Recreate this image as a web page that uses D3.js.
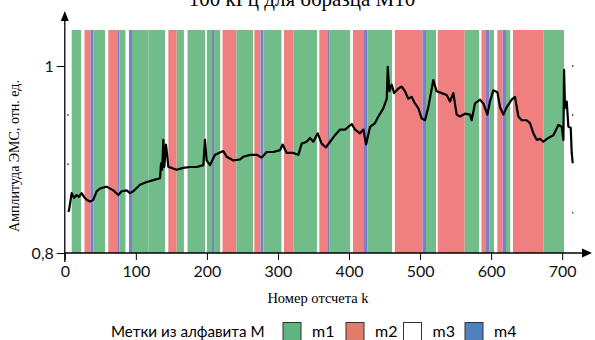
<!DOCTYPE html>
<html>
<head>
<meta charset="utf-8">
<script src="https://cdnjs.cloudflare.com/ajax/libs/d3/7.8.5/d3.min.js"></script>
<style>
  body { margin: 0; background: #fff; }
  svg { display: block; }
</style>
</head>
<body>
<svg width="595" height="340"></svg>
<script>
// label bands: edges between consecutive segments and the label of each one
var bandEdges = [9.7, 22.8, 27.7, 36.2, 40.1, 56.6, 61.2, 73.9, 76.7, 85.7, 90.3, 94.6, 118, 141, 145.7,
    157.5, 167.7, 172.7, 198, 200, 207.2, 210, 219.1, 221.9, 241.5, 265.3, 266.7, 275.4, 279.6, 305.2,
    308.5, 321.9, 354.9, 358.2, 369.4, 372.1, 401.8, 405.6, 421.1, 425.7, 460.9, 464.4, 503.4, 508.3,
    522.4, 524.9, 562.8, 582.9, 586.4, 592.7, 597.4, 604, 608.7, 616.2, 620.9, 627.2, 630.7, 673.4, 702.5];
var bandLabels = ['m1', 'm3', 'm2', 'm4', 'm1', 'm3', 'm2', 'm4', 'm1', 'm3', 'm4', 'm1', 'm1', 'm3',
    'm2', 'm1', 'm3', 'm1', 'm3', 'm1', 'm4', 'm1', 'm3', 'm2', 'm1', 'm3', 'm2', 'm4', 'm1', 'm3',
    'm2', 'm1', 'm3', 'm2', 'm4', 'm1', 'm3', 'm2', 'm4', 'm1', 'm3', 'm2', 'm4', 'm1', 'm3', 'm2',
    'm1', 'm3', 'm2', 'm4', 'm1', 'm3', 'm2', 'm4', 'm1', 'm3', 'm2', 'm1'];

// amplitude samples
var sampleK = [5, 6, 9.7, 13, 16.7, 20, 23.7, 27, 30.8, 35.5, 38, 40.2, 44.8, 49.5, 58.9, 68.3, 75.3, 80,
    87.1, 91.8, 96.4, 105.8, 115.2, 124.6, 134, 135.4, 137, 138.7, 140, 142.4, 144.3, 145.7, 150.4, 157.4,
    166.8, 176.2, 185.6, 195, 197.3, 199.6, 204.3, 211.4, 223.1, 227.8, 237.2, 246.6, 251.3, 260.6, 270,
    277, 284.1, 293.5, 302.9, 306.6, 312.3, 321.6, 328.7, 333.4, 340.4, 345.1, 349.8, 355.9, 361.5, 367.6,
    373.3, 380.3, 387.3, 394.4, 403.8, 408.5, 415.5, 420.2, 424, 429.6, 436.6, 441.3, 448.4, 453.1, 454.5,
    456.8, 460.1, 463.4, 469.5, 474.2, 478.7, 483.4, 488.1, 492.8, 497.5, 502.2, 506.9, 511.6, 518.6, 523.3,
    530.4, 537.4, 542.1, 546.8, 551.5, 556.2, 563.2, 570.3, 572.6, 577.3, 584.4, 589.1, 594.7, 598.4, 603.1,
    608.8, 612.5, 617.2, 621.9, 628.9, 633.6, 638.3, 643, 650, 654.7, 659.4, 664.1, 668.8, 673.5, 680.5,
    687.6, 694.6, 699.3, 701.7, 702.6, 704, 706.4, 708.7, 712, 713.4, 714.8];
var sampleAmp = [.844, .846, .864, .859, .862, .860, .864, .860, .857, .855, .856, .857, .866, .869, .871,
    .867, .862, .866, .867, .864, .866, .873, .876, .878, .880, .896, .889, .921, .892, .916, .903, .892,
    .891, .889, .891, .892, .892, .894, .921, .899, .894, .905, .909, .903, .899, .900, .903, .905, .905,
    .902, .908, .908, .910, .916, .907, .907, .905, .917, .919, .923, .919, .928, .917, .913, .919, .926,
    .932, .932, .938, .932, .928, .932, .916, .935, .939, .946, .955, .965, .999, .973, .980, .971, .976,
    .978, .973, .965, .967, .960, .955, .944, .942, .956, .985, .973, .971, .969, .962, .971, .948, .946,
    .949, .948, .942, .960, .964, .960, .948, .962, .974, .972, .956, .948, .956, .964, .967, .946, .942,
    .942, .939, .928, .921, .922, .919, .923, .926, .937, .935, .921, .996, .955, .962, .935, .934, .907, .896];

var xTicks = [0, 100, 200, 300, 400, 500, 600, 700];
var yTicks = [0.8, 1];
var yMinor = [0.9476, 0.895];
var yMinorRight = [1, 0.9476, 0.843];
var legendLabels = ['m1', 'm2', 'm3', 'm4'];

var bandColor = { m1: '#72bc8a', m2: '#f08080', m3: '#ffffff', m4: '#7b80c6' };
var legendColor = { m1: '#5fb580', m2: '#e27d6d', m3: '#ffffff', m4: '#4f81bd' };

var svg = d3.select('svg');
var sans = 'Lato, "Open Sans", sans-serif';
var serif = '"Liberation Serif", "DejaVu Serif", serif';

var x = d3.scaleLinear().domain([0, 700]).range([64.8, 562.2]);
var y = d3.scaleLinear().domain([0.8, 1]).range([253, 66]);
var bandTop = 30, bandBottom = 253;

// title, mostly cut by the top edge as in the source figure
svg.append('text')
    .attr('x', 302).attr('y', 5.5)
    .attr('text-anchor', 'middle')
    .style('font-family', serif).style('font-size', '21px')
    .text('100 кГц для образца М10');

// bands
var segs = bandLabels.map(function(l, i) { return { a: bandEdges[i], b: bandEdges[i + 1], label: l }; });
svg.append('g').selectAll('rect')
    .data(segs)
    .enter().append('rect')
    .attr('x', function(d) { return x(d.a); })
    .attr('width', function(d) { return x(d.b) - x(d.a); })
    .attr('y', bandTop)
    .attr('height', bandBottom - bandTop)
    .attr('fill', function(d) { return bandColor[d.label]; });

// minor dots
svg.append('g').selectAll('circle')
    .data(yMinor)
    .enter().append('circle')
    .attr('cx', 68).attr('cy', function(d) { return y(d); }).attr('r', 0.9)
    .attr('fill', '#555');
svg.append('g').selectAll('circle')
    .data(yMinorRight)
    .enter().append('circle')
    .attr('cx', 572.7).attr('cy', function(d) { return y(d); }).attr('r', 0.9)
    .attr('fill', '#555');

// amplitude line
var pts = sampleK.map(function(k, i) { return [k, sampleAmp[i]]; });
svg.append('path')
    .datum(pts)
    .attr('fill', 'none')
    .attr('stroke', '#000')
    .attr('stroke-width', 2.2)
    .attr('stroke-linejoin', 'round')
    .attr('d', d3.line().x(function(d) { return x(d[0]); }).y(function(d) { return y(d[1]); }));

// axes
var xAxis = svg.append('g').attr('transform', 'translate(0,' + y(0.8) + ')')
    .call(d3.axisBottom(x).tickValues(xTicks).tickSize(7).tickPadding(6).tickFormat(d3.format('d')));
xAxis.select('.domain').remove();
xAxis.selectAll('text').style('font-family', sans).style('font-size', '16px').attr('fill', '#111');

var yAxis = svg.append('g').attr('transform', 'translate(' + x(0) + ',0)')
    .call(d3.axisLeft(y).tickValues(yTicks).tickSize(8).tickPadding(3)
        .tickFormat(function(d) { return d === 1 ? '1' : '0,8'; }));
yAxis.select('.domain').remove();
yAxis.selectAll('text').style('font-family', sans).style('font-size', '16px').attr('fill', '#111');

svg.append('line').attr('x1', x(0)).attr('x2', 584).attr('y1', y(0.8)).attr('y2', y(0.8))
    .attr('stroke', '#000').attr('stroke-width', 1.3);
svg.append('path').attr('d', 'M592,' + y(0.8) + 'L582,' + (y(0.8) - 4.5) + 'L582,' + (y(0.8) + 4.5) + 'Z');
svg.append('line').attr('x1', x(0)).attr('x2', x(0)).attr('y1', 20).attr('y2', 262)
    .attr('stroke', '#000').attr('stroke-width', 1.3);
svg.append('path').attr('d', 'M' + x(0) + ',11L' + (x(0) - 4) + ',21L' + (x(0) + 4) + ',21Z');

// axis titles
svg.append('text')
    .attr('x', 318).attr('y', 303)
    .attr('text-anchor', 'middle')
    .style('font-family', serif).style('font-size', '14.5px')
    .text('Номер отсчета k');
svg.append('text')
    .attr('transform', 'translate(19,156) rotate(-90)')
    .attr('text-anchor', 'middle')
    .style('font-family', serif).style('font-size', '14px')
    .text('Амплитуда ЭМС, отн. ед.');

// legend
var legend = svg.append('g');
legend.append('text')
    .attr('x', 111).attr('y', 337)
    .style('font-family', sans).style('font-size', '15.2px')
    .text('Метки из алфавита M');
var legendX = [283, 346, 403.5, 465];
var item = legend.selectAll('g.item')
    .data(legendLabels)
    .enter().append('g').attr('class', 'item')
    .attr('transform', function(d, i) { return 'translate(' + legendX[i] + ',0)'; });
item.append('rect')
    .attr('x', 0).attr('y', 322.5).attr('width', 18).attr('height', 18)
    .attr('fill', function(d) { return legendColor[d]; })
    .attr('stroke', '#333').attr('stroke-width', 1);
item.append('text')
    .attr('x', 29).attr('y', 337)
    .style('font-family', sans).style('font-size', '16px')
    .text(function(d) { return d; });
</script>
</body>
</html>
